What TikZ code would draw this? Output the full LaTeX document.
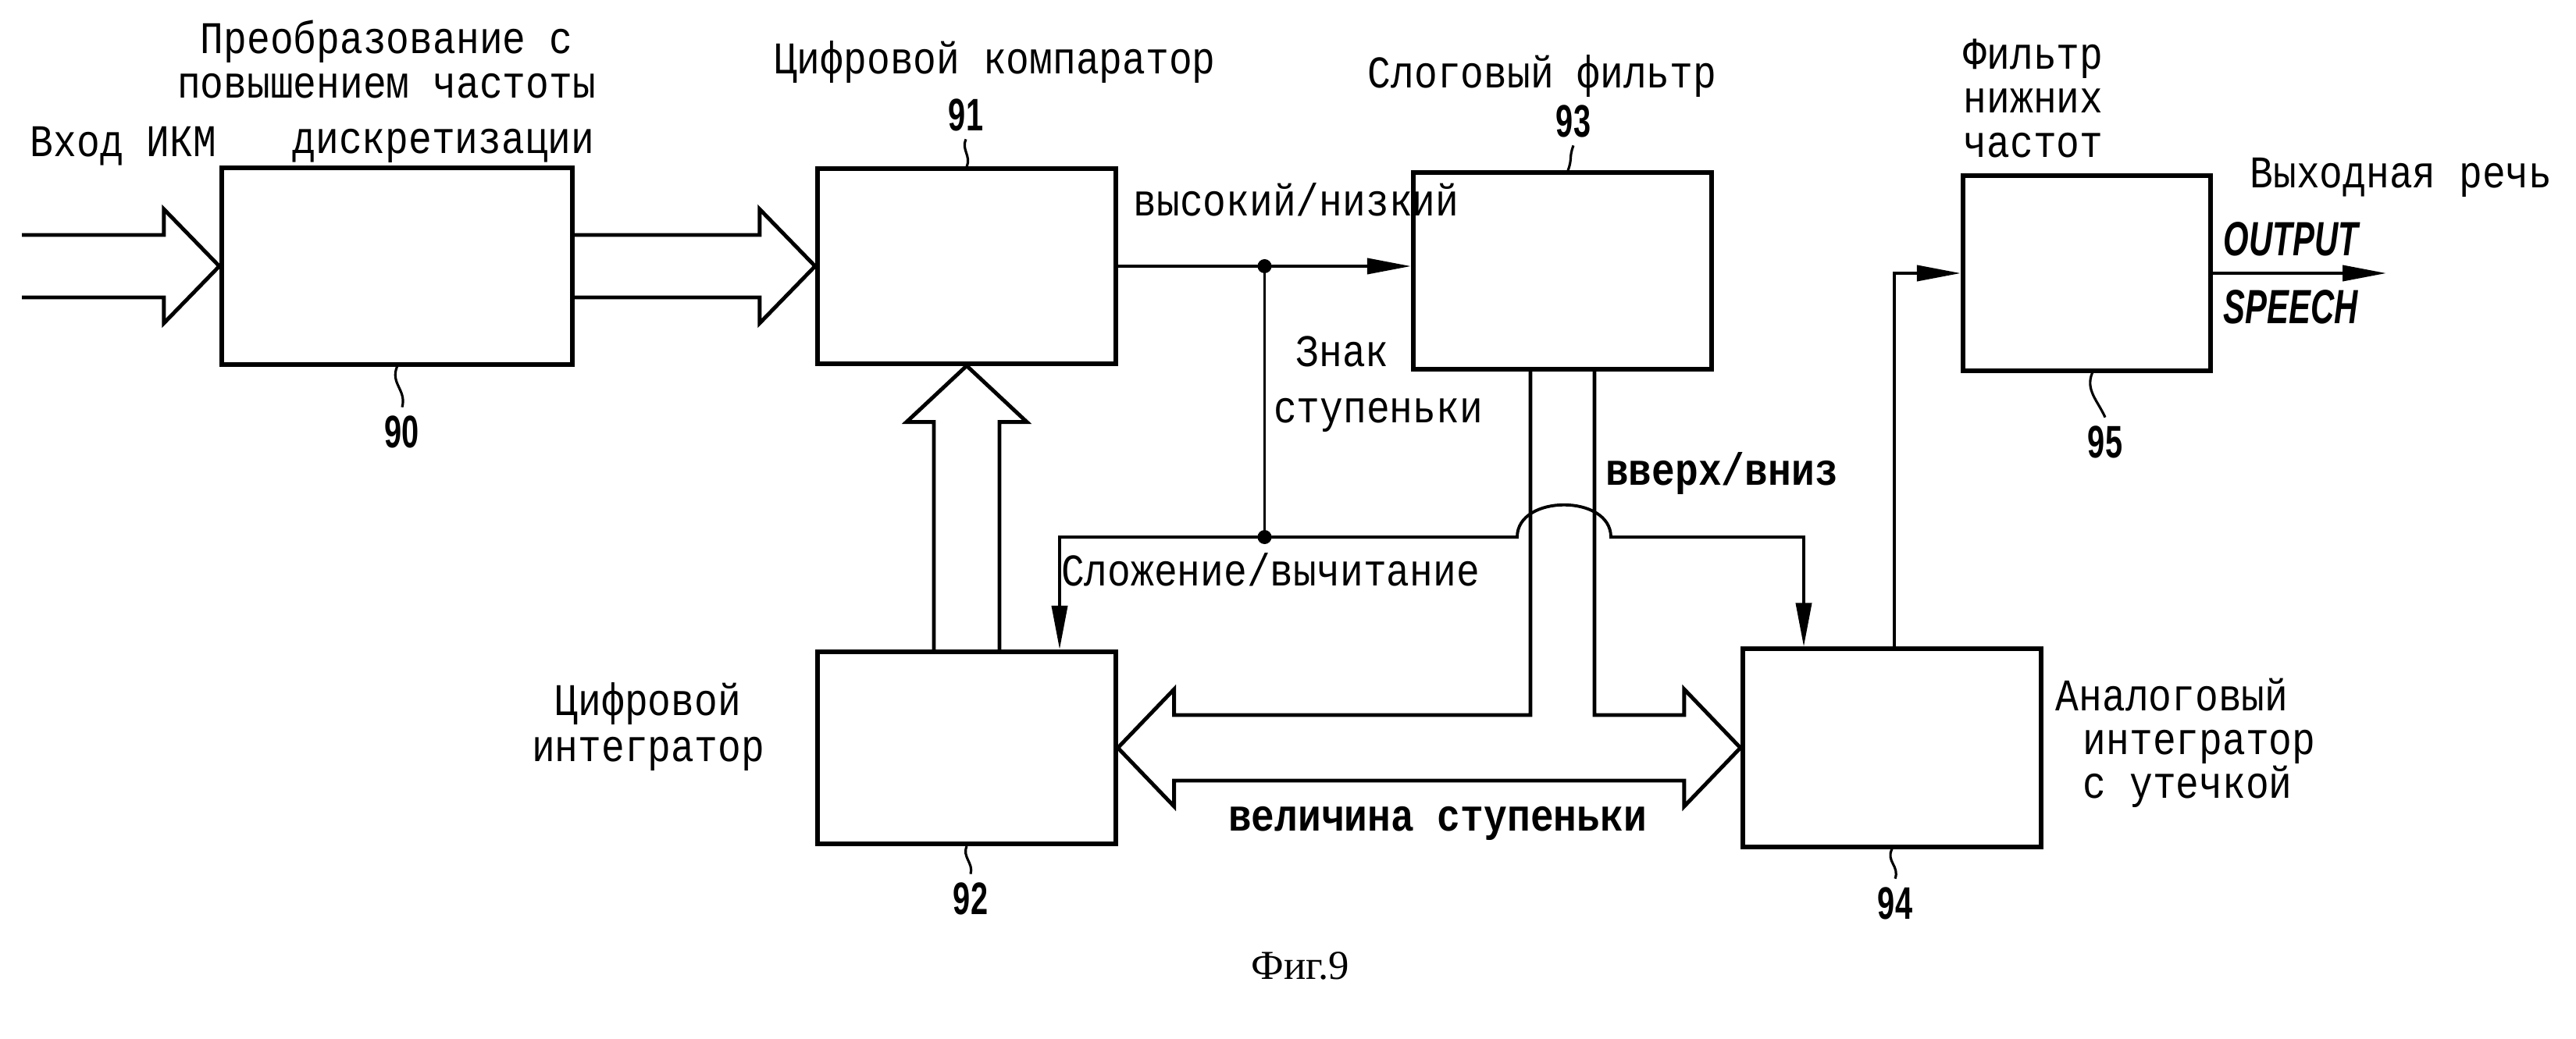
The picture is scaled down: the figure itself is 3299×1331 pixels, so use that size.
\documentclass[tikz,border=0pt]{standalone}
\usepackage{fontspec}
\setmainfont{Liberation Mono}[FakeStretch=0.855]
\newfontfamily\numfont{Liberation Sans}[FakeStretch=0.68]
\newfontfamily\figfont{Liberation Serif}
\usepackage{tikz}
\usetikzlibrary{calc}
\usetikzlibrary{arrows.meta}

\tikzset{
  block/.style={draw, line width=1.7pt, inner sep=0pt},
  sig/.style={line width=1.1pt},
  flow/.style={-{Triangle[length=0.56cm, width=0.2cm]}},
  bus/.style={line width=1.4pt, line join=miter},
  lead/.style={line width=0.9pt},
  lbl/.style={font=\fontsize{16.5}{16}\selectfont, inner sep=0pt},
  lblb/.style={lbl, font=\fontsize{16.5}{16}\selectfont\bfseries},
  num/.style={font=\numfont\bfseries\fontsize{16.6}{17}\selectfont, inner sep=0.1cm},
  eng/.style={font=\numfont\bfseries\itshape\fontsize{17.5}{18}\selectfont, inner sep=0pt},
}

% wide hollow arrow pointing right, from #1 to the tip #2
\newcommand{\busright}[2]{%
  \draw[bus] ($(#1)+(0,-40)$) -- ($(#2)+(-71,-40)$) -- ($(#2)+(-71,-73)$)
    -- (#2) -- ($(#2)+(-71,73)$) -- ($(#2)+(-71,40)$) -- ($(#1)+(0,40)$);}

\begin{document}
\begin{tikzpicture}[x=0.01cm, y=-0.01cm]
  \useasboundingbox (0,0) rectangle (3299,1331);

  % blocks
  \draw (508.5,341) node[block, minimum width=4.49cm, minimum height=2.51cm, name=b90] {};
  \draw (1238,341) node[block, minimum width=3.82cm, minimum height=2.49cm, name=b91] {};
  \draw (2001,347) node[block, minimum width=3.82cm, minimum height=2.51cm, name=b93] {};
  \draw (2672.5,350) node[block, minimum width=3.17cm, minimum height=2.49cm, name=b95] {};
  \draw (1238,958) node[block, minimum width=3.81cm, minimum height=2.46cm, name=b92] {};
  \draw (2423,958) node[block, minimum width=3.82cm, minimum height=2.53cm, name=b94] {};

  % free ends
  \coordinate (pcm) at (28,341);
  \coordinate (spout) at (3056,350);

  % wide arrows
  \busright{pcm}{b90.west}
  \busright{b90.east}{b91.west}
  \draw[bus] ($(b92.north)+(-42,0)$) -- ($(b91.south)+(-42,72)$) -- ($(b91.south)+(-77,72)$)
    -- (b91.south) -- ($(b91.south)+(77,72)$) -- ($(b91.south)+(42,72)$) -- ($(b92.north)+(42,0)$);
  \draw[bus] ($(b93.south)+(-41,0)$) |- ($(b92.east)+(72,-42)$) -- ($(b92.east)+(72,-75)$)
    -- (b92.east) -- ($(b92.east)+(72,75)$) -- ($(b92.east)+(72,42)$)
    -- ($(b94.west)+(-72,42)$) -- ($(b94.west)+(-72,75)$) -- (b94.west)
    -- ($(b94.west)+(-72,-75)$) -- ($(b94.west)+(-72,-42)$) -| ($(b93.south)+(41,0)$);

  % signal lines
  \draw[sig, flow] (b91.east) -- (b91.east -| b93.west);
  \coordinate (j1) at ($(b91.east)!0.5!(b91.east -| b93.west)$);
  \coordinate (j2) at ($(j1)+(0,347)$);
  \coordinate (h1) at ($(j2 -| b93.south)+(-58,0)$);
  \coordinate (h2) at ($(j2 -| b93.south)+(62,0)$);
  \draw[sig] (j1) -- (j2);
  \draw[sig, flow] (j2) -| ($(b92.north)+(119,0)$);
  \draw[sig, flow] (j2) -- (h1) .. controls ($(h1)+(0,-55)$) and ($(h2)+(0,-55)$) .. (h2)
    -| ($(b94.north)+(-113,0)$);
  \fill (j1) circle [radius=0.09cm];
  \fill (j2) circle [radius=0.09cm];
  \draw[sig, flow] ($(b94.north)+(3,0)$) |- (b95.west);
  \draw[sig, flow] (b95.east) -- (spout)
    node[eng, pos=0.45, above=0.2cm] (lout) {OUTPUT}
    node[eng, pos=0.45, below=0.2cm] (lspeech) {SPEECH};

  % reference numbers
  \draw (515,553) node[num, name=n90] {90};
  \draw (1237,147) node[num, name=n91] {91};
  \draw (1243,1151) node[num, name=n92] {92};
  \draw (2015,155) node[num, name=n93] {93};
  \draw (2427,1157) node[num, name=n94] {94};
  \draw (2696,566) node[num, name=n95] {95};

  \draw[lead] (b90.south) .. controls ($(b90.south)+(-9,22)$) and ($(n90.north)+(6,-22)$) .. (n90.north);
  \draw[lead] (n91.south) .. controls ($(n91.south)+(-6,14)$) and ($(b91.north)+(6,-14)$) .. (b91.north);
  \draw[lead] (n93.south) .. controls ($(n93.south)+(-6,16)$) and ($(b93.north)+(13,-16)$) .. ($(b93.north)+(7,0)$);
  \draw[lead] ($(b95.south)+(7,0)$) .. controls ($(b95.south)+(-2,22)$) and ($(n95.north)+(-10,-22)$) .. (n95.north);
  \draw[lead] (b92.south) .. controls ($(b92.south)+(-6,14)$) and ($(n92.north)+(4,-14)$) .. (n92.north);
  \draw[lead] (b94.south) .. controls ($(b94.south)+(-8,16)$) and ($(n94.north)+(6,-16)$) .. (n94.north);

  % texts
  \draw (495,76) node[lbl, align=center, name=t90] {Преобразование с\\повышением частоты};
  \draw (568,187) node[lbl, name=t90b] {дискретизации};
  \draw (158,187) node[lbl, name=tpcm] {Вход ИКМ};
  \draw (1274,80) node[lbl, name=t91] {Цифровой компаратор};
  \draw (1975,98) node[lbl, name=t93] {Слоговый фильтр};
  \draw (2514,126) node[lbl, anchor=west, align=left, name=t95] {Фильтр\\нижних\\частот};
  \draw (3075,227) node[lbl, name=tout] {Выходная речь};
  \draw (1660,256) node[lbl, name=thilo] {высокий/низкий};
  \draw (1719,450) node[lbl, name=tsign] {Знак};
  \draw (1765,532) node[lbl, name=tstep] {ступеньки};
  \draw (2205,607) node[lblb, name=tupdn] {вверх/вниз};
  \draw (1627,730) node[lbl, name=tadd] {Сложение/вычитание};
  \draw (830,931) node[lbl, align=center, name=t92] {Цифровой\\[0.03cm]интегратор};
  \draw (1841,1055) node[lblb, name=tsize] {величина ступеньки};
  \draw (2667,952) node[lbl, anchor=west, align=left, name=t94] {\hspace*{-0.35cm}Аналоговый\\интегратор\\с утечкой};
  \draw (1665,1237) node[font=\figfont\fontsize{15}{16}\selectfont, name=tfig] {Фиг.9};

\end{tikzpicture}
\end{document}
